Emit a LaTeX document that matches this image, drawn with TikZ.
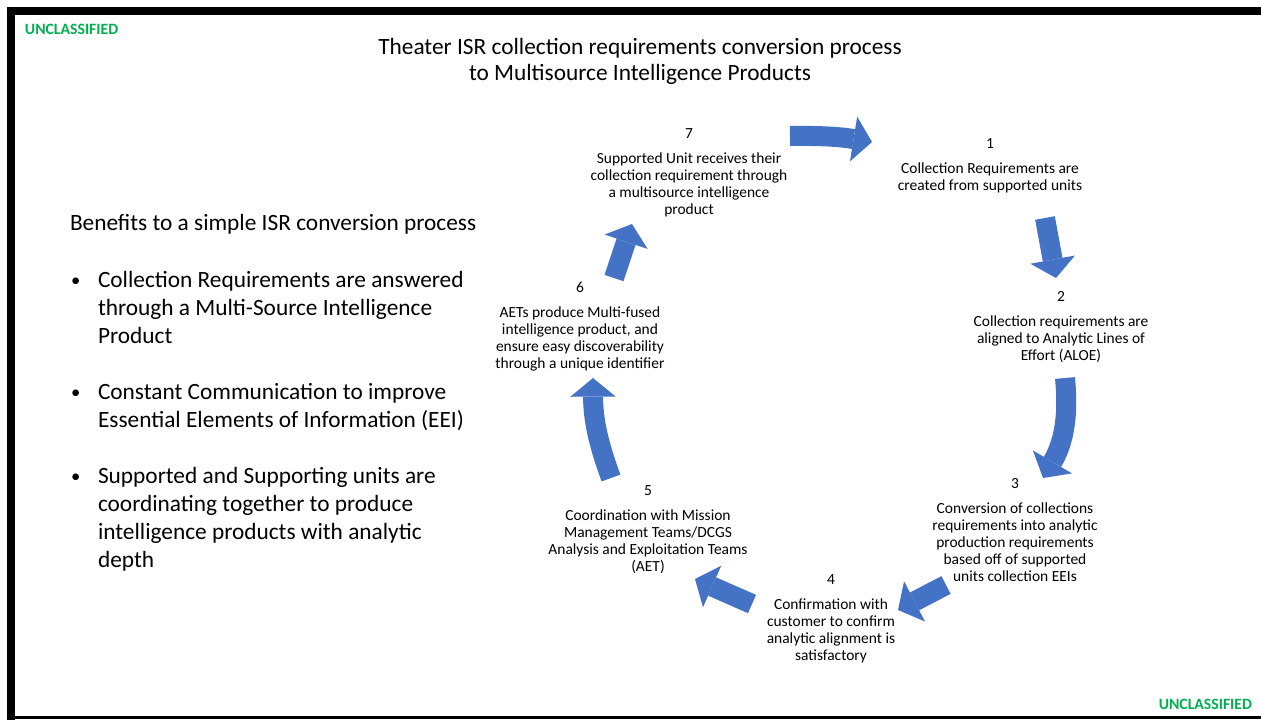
\documentclass[tikz,border=0pt]{standalone}
\usepackage{fontspec}
\setmainfont{Carlito}
\usetikzlibrary{arrows.meta}
\definecolor{clsgreen}{RGB}{0,176,80}
\definecolor{cycblue}{RGB}{68,114,196}

\begin{document}
\begin{tikzpicture}[x=0.75pt, y=-0.75pt,
    every node/.style={inner sep=0pt, outer sep=0pt},
    classmark/.style={font=\fontsize{11.8}{14}\selectfont\bfseries, text=clsgreen},
    titletext/.style={align=center, font=\fontsize{17.5}{19.5}\selectfont},
    benefit/.style={align=left, font=\fontsize{17.5}{21}\selectfont},
    steptext/.style={align=center, font=\fontsize{11.6}{12.75}\selectfont},
    cyclearrow/.style={draw=cycblue, line width=15pt,
        -{Triangle[width=34pt, length=14pt, line width=0pt]}}]
                \useasboundingbox (0,0) rectangle (1261,719);

                % Slide frame
                \draw[line width=6pt] (11,722) -- (11,11) -- (1265,11);
                \draw[line width=2.25pt] (7,717.5) -- (1265,717.5);

                % Classification marks
                \node[classmark, anchor=west] (clstop) at (25,29) {UNCLASSIFIED};
                \node[classmark, anchor=east] (clsbot) at (1252,704) {UNCLASSIFIED};

                % Title
                \node[titletext] (title) at (640,61) {Theater ISR collection requirements conversion process\\to Multisource Intelligence Products};

                % Benefits list (base anchor sits on the last line)
                \node[benefit, anchor=base west] (benefits) at (70,230) {Benefits to a simple ISR conversion process};
                \foreach \y/\ylast/\txt [count=\i] in {287/343/{Collection Requirements are answered\\through a Multi-Source Intelligence\\Product},
                                                       399/427/{Constant Communication to improve\\Essential Elements of Information (EEI)},
                                                       483/567/{Supported and Supporting units are\\coordinating together to produce\\intelligence products with analytic\\depth}} {
                    \node[benefit, anchor=base west, font=\fontsize{14}{16}\selectfont] (dot\i) at (71,\y-1) {•};
                    \node[benefit, anchor=base west] (item\i) at (98,\ylast) {\txt};
                }

                % Cycle steps
                \node[steptext] (s1) at (990,166) {1\\[6pt]Collection Requirements are\\created from supported units};
                \node[steptext] (s2) at (1061,327) {2\\[6pt]Collection requirements are\\aligned to Analytic Lines of\\Effort (ALOE)};
                \node[steptext] (s3) at (1015,530) {3\\[6pt]Conversion of collections\\requirements into analytic\\production requirements\\based off of supported\\units collection EEIs};
                \node[steptext] (s4) at (831,619) {4\\[6pt]Confirmation with\\customer to confirm\\analytic alignment is\\satisfactory};
                \node[steptext] (s5) at (648,530) {5\\[6pt]Coordination with Mission\\Management Teams/DCGS\\Analysis and Exploitation Teams\\(AET)};
                \node[steptext] (s6) at (580,327) {6\\[6pt]AETs produce Multi-fused\\intelligence product, and\\ensure easy discoverability\\through a unique identifier};
                \node[steptext] (s7) at (689,173) {7\\[6pt]Supported Unit receives their\\collection requirement through\\a multisource intelligence\\product};

                % Arrow ends
                \coordinate (a1t) at (790,136);  \coordinate (a1h) at (872,142);
                \coordinate (a2t) at (1045,218); \coordinate (a2h) at (1056,278);
                \coordinate (a3t) at (1065,378); \coordinate (a3h) at (1043,478);
                \coordinate (a4t) at (946,585);  \coordinate (a4h) at (898,610);
                \coordinate (a5t) at (752,604);  \coordinate (a5h) at (695,579);
                \coordinate (a6t) at (611,478);  \coordinate (a6h) at (593,378);
                \coordinate (a7t) at (614,278);  \coordinate (a7h) at (632,224);

                % Cycle arrows
                \draw[cyclearrow] (a1t) to[bend left=5] (a1h);
                \draw[cyclearrow] (a2t) -- (a2h);
                \draw[cyclearrow] (a3t) to[bend left=18] (a3h);
                \draw[cyclearrow] (a4t) -- (a4h);
                \draw[cyclearrow] (a5t) -- (a5h);
                \draw[cyclearrow] (a6t) to[bend left=10] (a6h);
                \draw[cyclearrow] (a7t) -- (a7h);
            \end{tikzpicture}
\end{document}
